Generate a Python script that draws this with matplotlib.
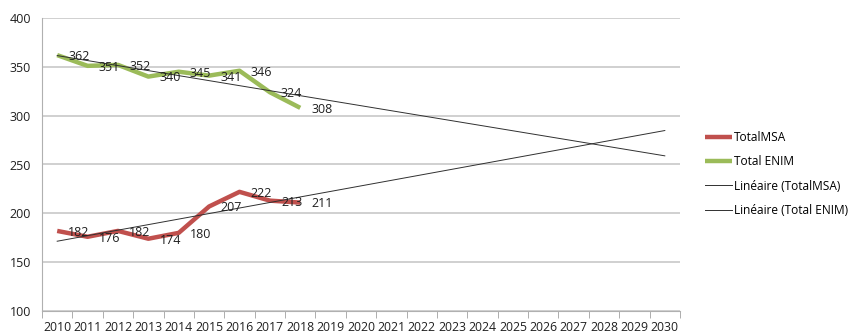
import numpy as np
import matplotlib
matplotlib.use("Agg")
import matplotlib.pyplot as plt

plt.rcParams['font.family'] = ['Open Sans', 'DejaVu Sans']

years = [str(y) for y in range(2010, 2031)]
msa = [182, 176, 182, 174, 180, 207, 222, 213, 211]
enim = [362, 351, 352, 340, 345, 341, 346, 324, 308]
yticks = [100, 150, 200, 250, 300, 350, 400]

fig = plt.figure(figsize=(8.51, 3.34), dpi=100)
ax = fig.add_axes([42/851, 1-311/334, (680-42)/851, (311-18)/334])

xs = np.arange(len(msa))
xall = np.arange(len(years))
red = '#c0504d'
green = '#9bbb59'

ax.plot(xs, msa, color=red, lw=3.2, solid_capstyle='butt', label='TotalMSA', zorder=3)
ax.plot(xs, enim, color=green, lw=3.2, solid_capstyle='butt', label='Total ENIM', zorder=3)

p1 = np.polyfit(xs, msa, 1)
p2 = np.polyfit(xs, enim, 1)
ax.plot(xall, np.polyval(p1, xall), color='#303030', lw=0.7, label='Linéaire (TotalMSA)', zorder=4)
ax.plot(xall, np.polyval(p2, xall), color='#303030', lw=0.7, label='Linéaire (Total ENIM)', zorder=4)

for x, v in zip(xs, msa):
    ax.annotate(str(v), (x, v), xytext=(8, -1), textcoords='offset points',
                ha='left', va='center', fontsize=9, color='#202020', zorder=5)
for x, v in zip(xs, enim):
    ax.annotate(str(v), (x, v), xytext=(8, -1), textcoords='offset points',
                ha='left', va='center', fontsize=9, color='#202020', zorder=5)

ax.set_xlim(-0.5, len(years) - 0.5)
ax.set_ylim(100, 400)
ax.set_yticks(yticks)
ax.set_xticks(xall)
ax.set_xticklabels(years)
ax.set_xticks(np.arange(-0.5, len(years), 1.0), minor=True)
ax.tick_params(axis='x', which='major', length=0, pad=7, labelsize=8.8, colors='#202020')
ax.tick_params(axis='x', which='minor', length=5, color='#a0a0a0')
ax.tick_params(axis='y', length=0, pad=8, labelsize=9, colors='#202020')
ax.yaxis.grid(True, color='#c4c4c4', lw=1.1)
ax.set_axisbelow(True)
for s in ['top', 'right']:
    ax.spines[s].set_visible(False)
ax.spines['left'].set_color('#b0b0b0')
ax.spines['bottom'].set_color('#b0b0b0')

h, l = ax.get_legend_handles_labels()
fig.legend(h, l, loc='center left', bbox_to_anchor=(699/851, 1-174/334), frameon=False,
           fontsize=8.6, handlelength=2.3, handletextpad=0.15, labelspacing=0.95, borderpad=0)

fig.savefig('out.png', dpi=100)
